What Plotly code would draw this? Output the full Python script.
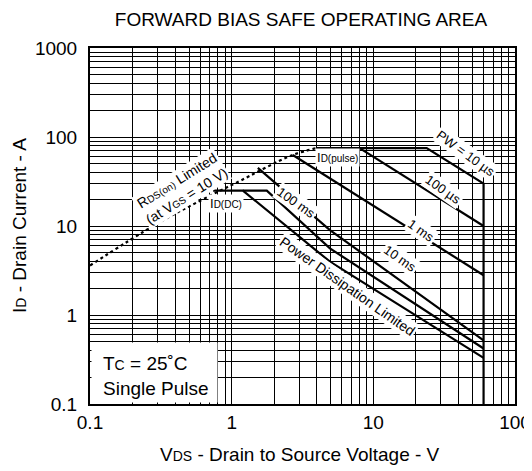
import math
import plotly.graph_objects as go

# ---------------- data ----------------
x_tick_vals = [0.1, 1, 10, 100]
x_tick_text = ["0.1", "1", "10", "100"]
y_tick_vals = [0.1, 1, 10, 100, 1000]
y_tick_text = ["0.1", "1", "10", "100", "1000"]

rds_v = [0.1, 0.3, 0.72, 1.06, 2.7, 4.0]
rds_i = [3.6, 10.7, 22.3, 30.2, 62.8, 75]

pw10us_v = [4.0, 23.8, 60, 60]
pw10us_i = [75, 75, 30, 0.1]

pw100us_v = [8.0, 60]
pw100us_i = [75, 10]

pw1ms_v = [2.7, 60]
pw1ms_i = [62.8, 2.8]

pw10ms_v = [1.53, 4.94, 60]
pw10ms_i = [45, 9.0, 0.52]

pw100ms_v = [1.2, 1.77, 4.94, 60]
pw100ms_i = [25, 25, 5.6, 0.42]

dc_v = [0.74, 1.2, 4.94, 60]
dc_i = [25, 25, 3.97, 0.33]

FONT = "Liberation Sans, Arial, Helvetica, sans-serif"

fig = go.Figure()

fig.add_trace(go.Scatter(x=rds_v, y=rds_i, mode="lines",
                         line=dict(color="black", width=2.2, dash="dot", shape="spline"),
                         hoverinfo="skip"))
for vv, ii in [(pw10us_v, pw10us_i), (pw100us_v, pw100us_i), (pw1ms_v, pw1ms_i),
               (pw10ms_v, pw10ms_i), (pw100ms_v, pw100ms_i), (dc_v, dc_i)]:
    fig.add_trace(go.Scatter(x=vv, y=ii, mode="lines",
                             line=dict(color="black", width=2.2),
                             hoverinfo="skip"))

# grid ticks: every 1..9 per decade
def grid_vals(lo, hi):
    out = []
    for e in range(lo, hi):
        for m in range(1, 10):
            out.append(m * 10 ** e)
    out.append(10 ** hi)
    return out

xg = grid_vals(-1, 2)
yg = grid_vals(-1, 3)
xt = [x_tick_text[x_tick_vals.index(v)] if v in x_tick_vals else "" for v in xg]
yt = [y_tick_text[y_tick_vals.index(v)] if v in y_tick_vals else "" for v in yg]

axis_common = dict(type="log", showgrid=True, gridcolor="black", gridwidth=1,
                   showline=True, linecolor="black", linewidth=2, mirror=True,
                   ticks="", zeroline=False, automargin=False,
                   tickfont=dict(family=FONT, size=19, color="black"))

fig.update_xaxes(range=[-1, 2], tickmode="array", tickvals=xg, ticktext=xt, **axis_common)
fig.update_yaxes(range=[-1, 3], tickmode="array", tickvals=yg, ticktext=yt,
                 ticklabelstandoff=7, **axis_common)

def L(v):
    return math.log10(v)

def sub(t, px):
    return "<span style='font-size:%dpx'>%s</span>" % (px, t)

ann = []
def label(text, v, i, angle=0, size=13):
    ann.append(dict(x=L(v), y=L(i), xref="x", yref="y", text=text, showarrow=False,
                    textangle=angle, bgcolor="white", borderpad=1,
                    font=dict(family=FONT, size=size, color="black"),
                    xanchor="center", yanchor="middle"))

label("R" + sub("DS(on)", 10) + " Limited<br>(at V" + sub("GS", 10) + " = 10 V)", 0.446, 26.7, -32, 14)
label("I" + sub("D(DC)", 10), 0.912, 17.7, 0, 13)
label("I" + sub("D(pulse)", 10), 5.63, 59.6, 0, 13)
label("PW = 10 µs", 45.1, 66.1, 36, 13)
label("100 µs", 31.0, 25.4, 35, 13)
label("1 ms", 21.7, 9.0, 35, 13)
label("10 ms", 15.4, 4.3, 35, 13)
label("100 ms", 2.85, 18.6, 35, 13)
label("Power Dissipation Limited", 6.52, 2.12, 35, 14)

# white box behind the conditions text
ann.append(dict(x=0.003, y=0.004, xref="paper", yref="paper", xanchor="left", yanchor="bottom",
                text=" ", showarrow=False, bgcolor="white", width=125, height=59, borderpad=0,
                font=dict(family=FONT, size=10)))
ann.append(dict(x=0.026, y=0.08, xref="paper", yref="paper", xanchor="left", yanchor="middle",
                text="T" + sub("C", 14) + " = 25˚C<br>Single Pulse", showarrow=False, align="left",
                font=dict(family=FONT, size=19, color="black")))
ann.append(dict(x=0.494, y=-0.143, xref="paper", yref="paper", xanchor="center", yanchor="middle",
                text="V" + sub("DS", 14) + " - Drain to Source Voltage - V", showarrow=False,
                font=dict(family=FONT, size=19, color="black")))
ann.append(dict(x=(19 - 90) / 425, y=0.5, xref="paper", yref="paper", xanchor="center", yanchor="middle",
                text="I" + sub("D", 14) + " - Drain Current - A", showarrow=False, textangle=-90,
                font=dict(family=FONT, size=19, color="black")))

# the page adds an 8px body margin, so the figure is laid out 8px up/left
fig.update_layout(
    width=532, height=471,
    margin=dict(l=82, r=25, t=40, b=75, autoexpand=False),
    paper_bgcolor="white", plot_bgcolor="white",
    showlegend=False,
    title=dict(text="FORWARD BIAS SAFE OPERATING AREA", x=293 / 532, xanchor="center",
               y=1 - 11 / 471, yanchor="middle", yref="container", xref="container",
               font=dict(family=FONT, size=19, color="black")),
    annotations=ann,
)

fig.write_html("out.html")
